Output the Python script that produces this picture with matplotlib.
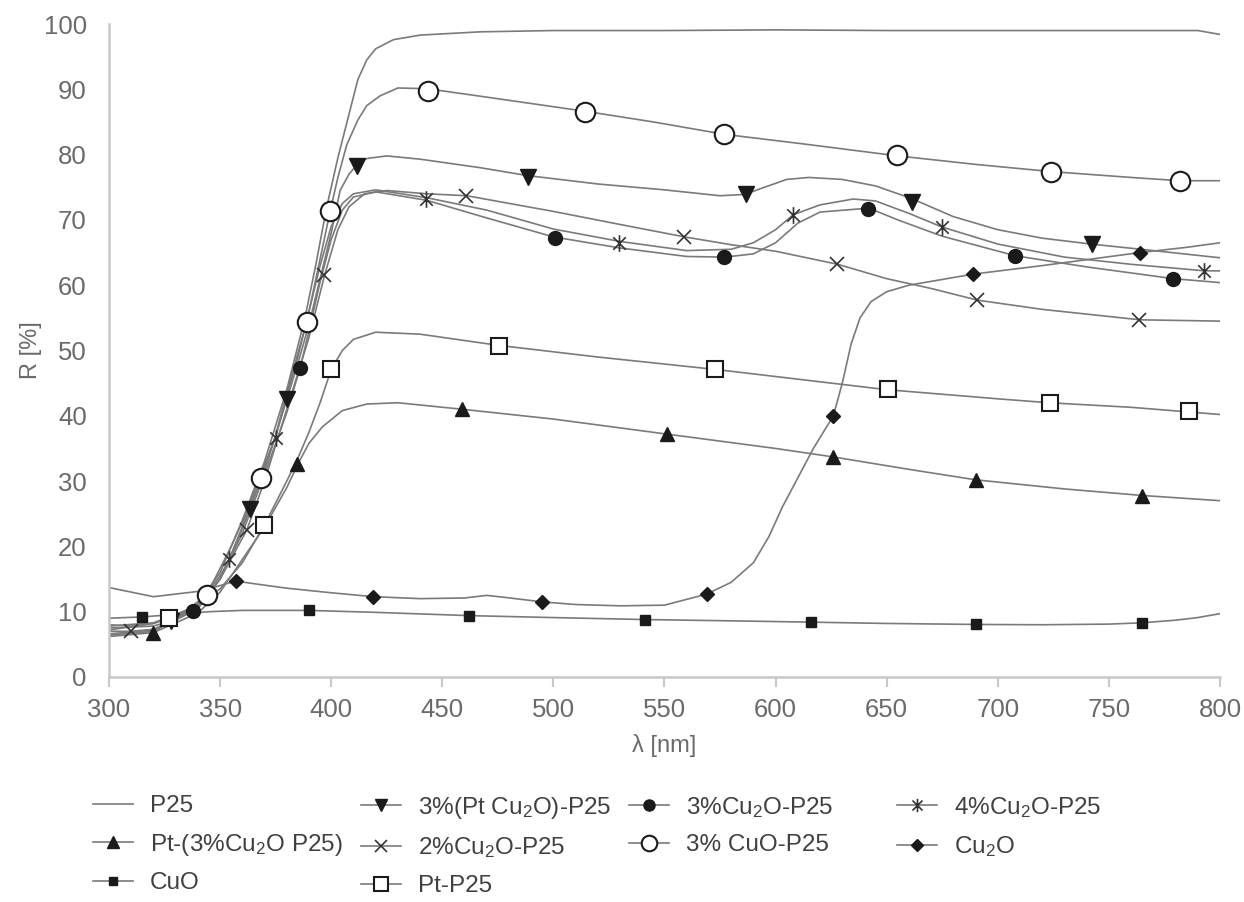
import numpy as np
import matplotlib
matplotlib.use("Agg")
import matplotlib.pyplot as plt
from matplotlib.path import Path
from matplotlib.lines import Line2D

plt.rcParams["font.family"] = ["Liberation Sans", "DejaVu Sans"]
plt.rcParams["mathtext.fontset"] = "custom"
plt.rcParams["mathtext.rm"] = "Liberation Sans"
plt.rcParams["mathtext.default"] = "regular"

# ---- spectra (wavelength nm, reflectance %) ----
p25_x = [300, 310, 320, 330, 340, 350, 360, 370, 380, 388, 393, 398, 403, 406, 409,
         412, 416, 420, 428, 440, 467, 500, 550, 600, 650, 700, 750, 790, 800]
p25_y = [8.0, 7.8, 8.2, 9.3, 11.2, 16, 24, 33, 44, 54.7, 63, 72, 79.5, 83.5, 87.5,
         91.5, 94.5, 96.2, 97.6, 98.3, 98.8, 99.0, 99.0, 99.1, 99.0, 99.0, 99.0, 99.0, 98.4]

ptcu_x = [300, 320, 328, 340, 350, 355, 363.5, 370, 375, 380, 385, 390, 395, 400, 404,
          408, 412, 416, 425, 440, 467, 488, 520, 550, 575, 586, 595, 605, 615, 630,
          645, 661, 680, 700, 720, 742, 770, 800]
ptcu_y = [7.5, 7.8, 8.6, 11, 15.5, 18.5, 25.7, 32, 37, 42.5, 48, 54, 61, 68, 74.5,
          77, 78.6, 79.4, 79.8, 79.3, 78.0, 76.8, 75.5, 74.6, 73.7, 73.9, 75.0, 76.2, 76.5, 76.2,
          75.2, 73.3, 70.5, 68.5, 67.2, 66.3, 65.3, 64.2]
ptcu_mx = [328, 363.5, 380, 411.6, 488.4, 586.5, 661.5, 742.3]
ptcu_my = [8.6, 25.7, 42.5, 78.2, 76.5, 73.9, 72.8, 66.3]

cu3_x = [300, 320, 338, 350, 360, 370, 380, 386, 390, 395, 400, 405, 410, 420, 443,
         470, 500, 530, 560, 577, 590, 600, 610, 620, 642, 655, 675, 708, 740, 779, 800]
cu3_y = [6.4, 7.0, 10.1, 15, 22, 31, 40.5, 47.3, 53, 60.5, 67, 71.5, 73.5, 74.3, 73.0,
         70.3, 67.4, 65.7, 64.4, 64.3, 64.8, 66.5, 69.5, 71.2, 71.8, 70.0, 67.5, 64.5, 62.8, 61.0, 60.4]
cu3_mx = [338, 386, 500.7, 576.8, 641.7, 707.7, 778.7]
cu3_my = [10.1, 47.3, 67.2, 64.3, 71.6, 64.5, 61.0]

cu4_x = [300, 320, 340, 350, 354, 360, 365, 370, 375, 380, 385, 390, 395, 400, 405,
         410, 420, 443, 470, 500, 530, 560, 580, 590, 600, 608, 620, 635, 645, 660,
         675, 700, 730, 760, 793, 800]
cu4_y = [6.6, 7.2, 10.5, 15, 18, 23, 28, 32.5, 36.8, 43, 49, 56, 63, 69, 72.5,
         74.0, 74.6, 73.4, 71.5, 68.6, 66.7, 65.3, 65.5, 66.5, 68.5, 70.8, 72.3, 73.2, 72.9, 71.0,
         68.9, 66.3, 64.3, 63.2, 62.2, 62.2]
cu4_mx = [354, 375, 442.7, 529.7, 608, 674.7, 792.8]
cu4_my = [18, 36.6, 73.2, 66.5, 70.8, 68.9, 62.2]

ptcu3_x = [300, 320, 340, 350, 360, 370, 380, 385, 390, 396, 405, 416, 430, 459, 500,
           551, 600, 626, 660, 690, 730, 765, 800]
ptcu3_y = [6.2, 6.8, 9.8, 13, 18, 23, 29, 32.6, 35.8, 38.3, 40.8, 41.8, 42.0, 41.0, 39.5,
           37.2, 35.0, 33.7, 31.8, 30.2, 28.8, 27.8, 27.0]
ptcu3_mx = [320, 384.7, 459, 551, 626, 690, 765]
ptcu3_my = [6.8, 32.6, 41.0, 37.2, 33.7, 30.1, 27.7]

cu2_x = [300, 310, 320, 340, 350, 362, 370, 380, 390, 397, 403, 408, 415, 425, 443,
         461, 500, 530, 559, 580, 600, 628, 650, 670, 691, 720, 764, 800]
cu2_y = [7.0, 7.0, 7.3, 10.5, 15, 22.5, 30, 41, 52, 61.5, 68.5, 72, 74, 74.5, 74.0,
         73.7, 71.3, 69.3, 67.4, 66.2, 65.2, 63.2, 61.0, 59.5, 57.7, 56.3, 54.7, 54.5]
cu2_mx = [310, 362, 396.8, 460.7, 558.8, 627.8, 690.8, 763.7]
cu2_my = [7.0, 22.5, 61.5, 73.7, 67.4, 63.2, 57.7, 54.7]

cuo3_x = [300, 320, 335, 344, 355, 369, 375, 380, 389, 395, 399.5, 403, 407, 412, 416,
          422, 430, 443, 470, 515, 545, 577, 611, 655, 690, 724, 760, 782, 800]
cuo3_y = [7.8, 8.3, 10.2, 12.6, 20, 30.5, 37, 43.5, 54.4, 64, 71.3, 76.5, 81.5, 85.3, 87.5,
          89.0, 90.2, 90.1, 88.8, 86.6, 85.0, 83.1, 81.7, 79.8, 78.5, 77.4, 76.5, 76.0, 76.0]
cuo3_mx = [344, 368.6, 389, 399.5, 443.4, 514.2, 576.9, 654.5, 723.8, 782]
cuo3_my = [12.6, 30.5, 54.4, 71.3, 89.7, 86.6, 83.1, 79.9, 77.4, 76.0]

cu2o_x = [300, 310, 320, 330, 340, 350, 357, 365, 380, 400, 419, 440, 460, 470, 478,
          495, 510, 530, 550, 569, 580, 590, 597, 603, 610, 617, 626, 630, 634, 638,
          643, 650, 660, 689, 720, 764, 785, 800]
cu2o_y = [13.7, 13.0, 12.3, 12.7, 13.1, 14.0, 14.7, 14.3, 13.6, 12.9, 12.3, 12.0, 12.1, 12.5, 12.2,
          11.5, 11.1, 10.9, 11.0, 12.7, 14.5, 17.5, 21.5, 26, 30.5, 35, 40, 45, 51, 55,
          57.5, 59.0, 60.0, 61.7, 63.0, 65.0, 65.8, 66.5]
cu2o_mx = [357, 419, 495, 569, 626, 689, 764]
cu2o_my = [14.7, 12.3, 11.5, 12.7, 40.0, 61.7, 65.0]

cuo_x = [300, 315, 330, 345, 360, 390, 420, 462, 500, 541, 580, 616, 650, 690, 720,
         750, 765, 780, 790, 800]
cuo_y = [9.0, 9.2, 9.6, 10.0, 10.2, 10.2, 9.9, 9.4, 9.1, 8.8, 8.6, 8.4, 8.2, 8.05, 8.0,
         8.1, 8.3, 8.7, 9.1, 9.7]
cuo_mx = [315, 390, 462, 541, 616, 690, 765]
cuo_my = [9.2, 10.2, 9.4, 8.8, 8.4, 8.1, 8.3]

ptp25_x = [300, 320, 327, 340, 350, 360, 370, 380, 385, 390, 395, 400, 405, 410, 420,
           440, 475, 520, 573, 650, 700, 723, 760, 800]
ptp25_y = [7.2, 8.2, 9.1, 11, 13.5, 17.5, 23.3, 30, 33.5, 37.5, 42, 47.1, 50.0, 51.7, 52.8,
           52.5, 50.8, 49.0, 47.1, 44.0, 42.6, 42.0, 41.3, 40.2]
ptp25_mx = [327, 369.8, 399.8, 475.5, 572.7, 650.5, 723.5, 786]
ptp25_my = [9.1, 23.3, 47.2, 50.7, 47.1, 44.1, 42.0, 40.8]

# ---- styling ----
LINE = "#7a7a7a"
MK = "#1a1a1a"
GRID = "#c8c8c8"
TXT = "#6a6a6a"

star = Path([(0, -1), (0, 1), (-0.75, -0.75), (0.75, 0.75), (-0.75, 0.75), (0.75, -0.75)],
            [Path.MOVETO, Path.LINETO, Path.MOVETO, Path.LINETO, Path.MOVETO, Path.LINETO])

series = {
    # label: x, y, marker x, marker y, marker kwargs
    "P25": (p25_x, p25_y, None, None, {}),
    "Pt-(3%Cu$_2$O P25)": (ptcu3_x, ptcu3_y, ptcu3_mx, ptcu3_my,
                           dict(marker="^", ms=10, mfc=MK, mec=MK)),
    "CuO": (cuo_x, cuo_y, cuo_mx, cuo_my, dict(marker="s", ms=7, mfc=MK, mec=MK)),
    "3%(Pt Cu$_2$O)-P25": (ptcu_x, ptcu_y, ptcu_mx, ptcu_my,
                           dict(marker="v", ms=11, mfc=MK, mec=MK)),
    "2%Cu$_2$O-P25": (cu2_x, cu2_y, cu2_mx, cu2_my,
                      dict(marker="x", ms=10, mfc=MK, mec="#333333", mew=1.2)),
    "Pt-P25": (ptp25_x, ptp25_y, ptp25_mx, ptp25_my,
               dict(marker="s", ms=12, mfc="white", mec=MK, mew=1.5)),
    "3%Cu$_2$O-P25": (cu3_x, cu3_y, cu3_mx, cu3_my,
                      dict(marker="o", ms=10, mfc=MK, mec=MK)),
    "3% CuO-P25": (cuo3_x, cuo3_y, cuo3_mx, cuo3_my,
                   dict(marker="o", ms=14, mfc="white", mec=MK, mew=1.5)),
    "4%Cu$_2$O-P25": (cu4_x, cu4_y, cu4_mx, cu4_my,
                      dict(marker=star, ms=12, mfc=MK, mec="#333333", mew=1.2)),
    "Cu$_2$O": (cu2o_x, cu2o_y, cu2o_mx, cu2o_my,
                dict(marker="D", ms=7.5, mfc=MK, mec=MK)),
}

# legend columns as in the original (fixed-width columns)
legend_cols = [
    ["P25", "Pt-(3%Cu$_2$O P25)", "CuO"],
    ["3%(Pt Cu$_2$O)-P25", "2%Cu$_2$O-P25", "Pt-P25"],
    ["3%Cu$_2$O-P25", "3% CuO-P25"],
    ["4%Cu$_2$O-P25", "Cu$_2$O"],
]
col_left_px = [93, 361, 629, 897]

fig = plt.figure(figsize=(12.44, 9.02), dpi=100)
ax = fig.add_axes([109 / 1244, 1 - 677 / 902, 1111 / 1244, 653 / 902])

handles = {}
for label, (x, y, mx, my, mk) in series.items():
    ax.plot(x, y, color=LINE, lw=1.2, zorder=2)
    if mx is not None:
        ax.plot(mx, my, ls="none", zorder=3, **mk)
    hk = dict(mk)
    if "ms" in hk:
        hk["ms"] = hk["ms"] * 0.8
    handles[label] = Line2D([], [], color=LINE, lw=1.2, label=label, **hk)

ax.set_xlim(300, 800)
ax.set_ylim(0, 100)
ax.set_xticks(np.arange(300, 801, 50))
ax.set_yticks(np.arange(0, 101, 10))
for s in ["top", "right"]:
    ax.spines[s].set_visible(False)
for s in ["left", "bottom"]:
    ax.spines[s].set_color(GRID)
    ax.spines[s].set_linewidth(1.8)
ax.tick_params(axis="x", direction="out", length=7, width=1.5, color=GRID,
               labelsize=18.5, labelcolor=TXT, pad=8)
ax.tick_params(axis="y", length=0, labelsize=18.5, labelcolor=TXT, pad=16)
ax.set_xlabel("λ [nm]", fontsize=17, color=TXT, labelpad=9)
ax.set_ylabel("R [%]", fontsize=17, color=TXT, labelpad=1)

for labels, xpx in zip(legend_cols, col_left_px):
    fig.legend(handles=[handles[l] for l in labels], loc="upper left",
               bbox_to_anchor=(xpx / 1244, 1 - 795 / 902), ncol=1, frameon=False,
               fontsize=17.5, handlelength=1.65, handletextpad=0.7, borderpad=0,
               borderaxespad=0, labelspacing=0.6, labelcolor="#404040")

fig.savefig("out.png", dpi=100)
